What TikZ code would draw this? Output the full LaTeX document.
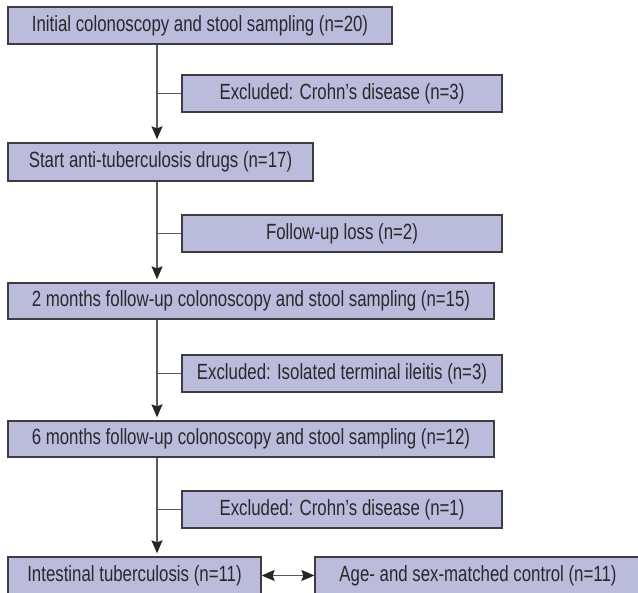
\documentclass[tikz,border=0pt]{standalone}
\usepackage{fontspec}
\setmainfont{Liberation Sans}[FakeStretch=0.765]
\usetikzlibrary{arrows.meta}
\definecolor{boxfill}{RGB}{187,187,220}
\definecolor{boxline}{RGB}{60,60,66}
\definecolor{connline}{RGB}{90,90,90}
\definecolor{txt}{RGB}{40,40,45}
\tikzset{
  box/.style={draw=boxline, fill=boxfill, line width=1.3pt, rectangle, inner sep=0pt,
    text=txt, font=\fontsize{22}{26}\selectfont, minimum height=37pt},
  conn/.style={draw=connline, line width=1.3pt},
  tipx/.tip={Stealth[length=13pt,width=11pt,inset=2pt,color=black!85]},
  arr/.style={conn, -tipx, shorten >=3pt},
  darr/.style={conn, tipx-tipx}
}
\begin{document}
\begin{tikzpicture}[x=1pt,y=-1pt]
\useasboundingbox (0,0) rectangle (638,593);
\coordinate (tr) at (157,0);
\node[box, minimum width=384pt] (b1) at (200,25.5) {Initial colonoscopy and stool sampling (n=20)};
\node[box, minimum width=320pt] (e1) at (342,93.5) {Excluded: Crohn’s disease (n=3)};
\node[box, minimum width=305pt, minimum height=38pt] (b2) at (160.5,162) {Start anti-tuberculosis drugs (n=17)};
\node[box, minimum width=320pt] (e2) at (342,233.5) {Follow-up loss (n=2)};
\node[box, minimum width=486pt, minimum height=36pt] (b3) at (251,301) {2 months follow-up colonoscopy and stool sampling (n=15)};
\node[box, minimum width=320pt] (e3) at (342,373.5) {Excluded: Isolated terminal ileitis (n=3)};
\node[box, minimum width=486pt, minimum height=36pt] (b4) at (251,439) {6 months follow-up colonoscopy and stool sampling (n=12)};
\node[box, minimum width=320pt] (e4) at (342,509.5) {Excluded: Crohn’s disease (n=1)};
\node[box, minimum width=253pt] (b5) at (134.5,575.5) {Intestinal tuberculosis (n=11)};
\node[box, minimum width=326pt] (b6) at (478,575.5) {Age- and sex-matched control (n=11)};
\draw[arr] (b1.south -| tr) -- (b2.north -| tr);
\draw[arr] (b2.south -| tr) -- (b3.north -| tr);
\draw[arr] (b3.south -| tr) -- (b4.north -| tr);
\draw[arr] (b4.south -| tr) -- (b5.north -| tr);
\draw[conn] (e1.west -| tr) -- (e1.west);
\draw[conn] (e2.west -| tr) -- (e2.west);
\draw[conn] (e3.west -| tr) -- (e3.west);
\draw[conn] (e4.west -| tr) -- (e4.west);
\draw[darr] (b5.east) -- (b6.west);
\end{tikzpicture}
\end{document}
